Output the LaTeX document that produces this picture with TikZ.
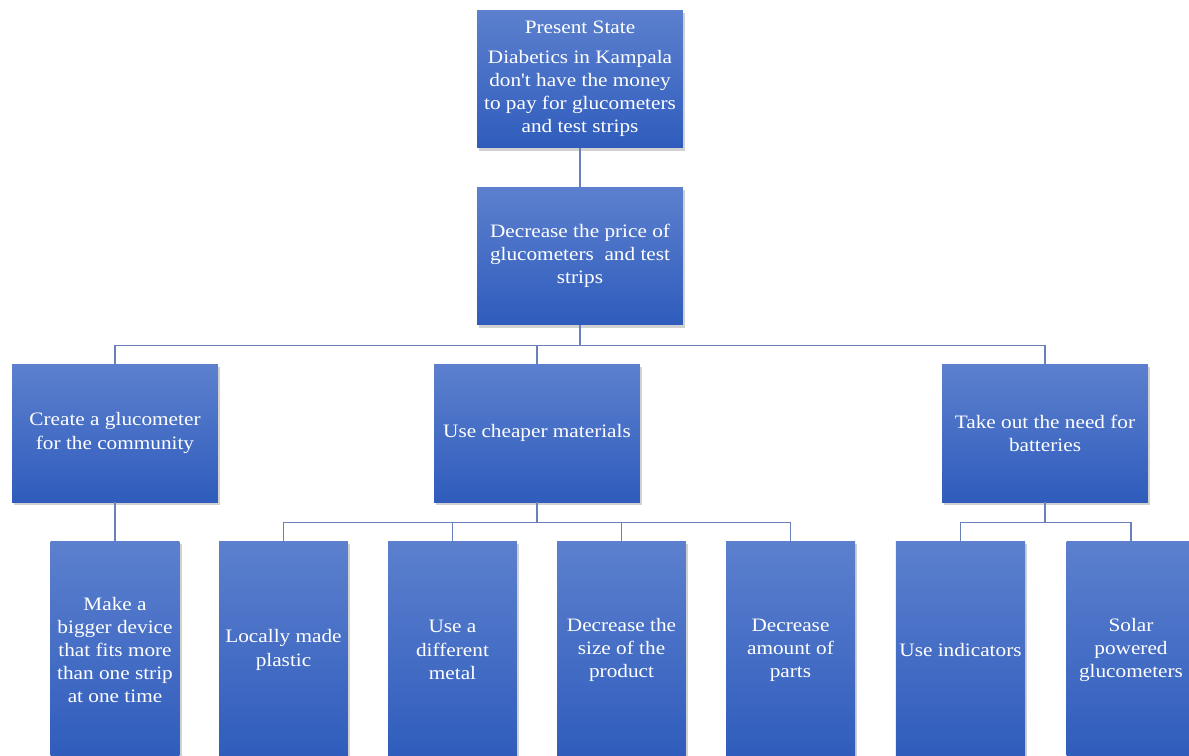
\documentclass[tikz,border=0pt]{standalone}
\usepackage{fontspec}
\setmainfont{Liberation Serif}[FakeStretch=1.12, Ligatures=TeXOff]
\usetikzlibrary{shadows}

\definecolor{boxtop}{RGB}{92,128,206}
\definecolor{boxbot}{RGB}{47,92,188}
\definecolor{linkcol}{RGB}{105,128,184}

\begin{document}
\begin{tikzpicture}[x=0.02cm, y=-0.02cm,
	goalbox/.style={shape=rectangle, top color=boxtop, bottom color=boxbot, draw=none,
		text=white, align=center, inner sep=2pt,
		font=\fontsize{10.8}{13.2}\selectfont,
		drop shadow={opacity=0.3, shadow xshift=1.2pt, shadow yshift=-1.5pt, fill=black!60}},
	widebox/.style={goalbox, minimum width=4.12cm, minimum height=2.76cm},
	tallbox/.style={goalbox, minimum width=2.58cm, minimum height=4.36cm},
	link/.style={draw=linkcol, line width=0.9pt}]
	\useasboundingbox (0,0) rectangle (1189,755);
	\clip (0,0) rectangle (1189,755);

	\node[widebox] (state) at (580, 79) {Present State\\[1.2mm] Diabetics in Kampala\\don't have the money\\to pay for glucometers\\and test strips};
	\node[widebox] (price) at (580, 256) {Decrease the price of\\glucometers~ and test\\strips};

	\node[widebox] (community) at (115, 433) {Create a glucometer\\for the community};
	\node[widebox] (materials) at (537, 433) {Use cheaper materials};
	\node[widebox] (batteries) at (1045, 433) {Take out the need for\\batteries};

	\node[tallbox] (bigger) at (115, 650) {Make a\\bigger device\\that fits more\\than one strip\\at one time};
	\node[tallbox] (plastic) at (283.5, 650) {Locally made\\plastic};
	\node[tallbox] (metal) at (452.5, 650) {Use a\\different\\metal};
	\node[tallbox] (size) at (621.5, 650) {Decrease the\\size of the\\product};
	\node[tallbox] (parts) at (790.5, 650) {Decrease\\amount of\\parts};
	\node[tallbox] (indicators) at (960.5, 650) {Use indicators};
	\node[tallbox] (solar) at (1131, 650) {Solar\\powered\\glucometers};

	\draw[link] (state) -- (price);
	\foreach \kid in {community, materials, batteries}
		\draw[link] (price.south) -- ++(0, 20) -| (\kid.north);
	\draw[link] (community) -- (bigger);
	\foreach \kid in {plastic, metal, size, parts}
		\draw[link] (materials.south) -- ++(0, 20) -| (\kid.north);
	\foreach \kid in {indicators, solar}
		\draw[link] (batteries.south) -- ++(0, 20) -| (\kid.north);
\end{tikzpicture}
\end{document}
